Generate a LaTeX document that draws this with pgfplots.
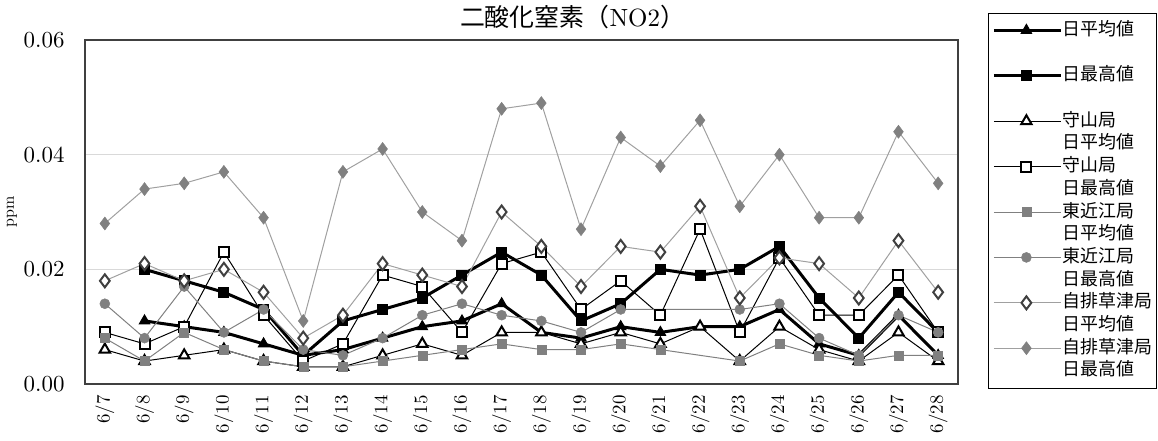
\documentclass[border=0pt]{standalone}
\usepackage{fontspec}
\setmainfont{lmroman10-regular.otf}
\usepackage{pgfplots}
\pgfplotsset{compat=1.18}
\newfontfamily\cjk{Noto Sans CJK JP}

\definecolor{markgray}{HTML}{808080}
\definecolor{linegray}{HTML}{A0A0A0}
\definecolor{gridgray}{HTML}{D9D9D9}
\definecolor{framegray}{HTML}{404040}

\begin{document}
\begin{tikzpicture}
\useasboundingbox (-85bp,-57bp) rectangle (1073bp,384bp);
\begin{axis}[
  scale only axis,
  width=873bp, height=344bp,
  xmin=-0.5, xmax=21.5,
  ymin=0, ymax=0.06,
  xtick={0,...,21},
  xticklabels={6/7,6/8,6/9,6/10,6/11,6/12,6/13,6/14,6/15,6/16,6/17,6/18,6/19,6/20,6/21,6/22,6/23,6/24,6/25,6/26,6/27,6/28},
  x tick label style={rotate=90, anchor=east, font=\fontsize{19}{19}\selectfont},
  xticklabel shift=8bp,
  ytick={0,0.02,0.04,0.06},
  yticklabel={\fontsize{23}{23}\selectfont\pgfmathprintnumber[assume math mode=true, fixed, fixed zerofill, precision=2]{\tick}},
  yticklabel shift=17bp,
  scaled y ticks=false,
  major tick length=0pt,
  ymajorgrids=true,
  grid style={gridgray, line width=1.2bp},
  axis line style={framegray, line width=1.3bp},
  ylabel={\fontsize{16}{16}\selectfont ppm},
  ylabel style={at={(axis description cs:-0.0836,0.5)}, anchor=center},
  title={{\cjk 二酸化窒素（}NO2{\cjk ）}},
  title style={font=\fontsize{25}{25}\selectfont, at={(0.5,1)}, anchor=south, xshift=51bp, yshift=2bp},
  legend style={
    at={(1,1)}, anchor=north west, xshift=30bp, yshift=27bp,
    draw=black, line width=0.8bp, inner xsep=4bp, inner ysep=8bp,
    font=\fontsize{18}{18}\selectfont\cjk,
    nodes={inner sep=0pt, text height=14bp, text depth=4bp},
    row sep=4.7bp,
  },
  legend cell align=left,
  legend image code/.code={
    \path (0bp,0bp) -- (67bp,0bp);
    \draw[mark repeat=2, mark phase=2] plot coordinates {(6bp,0bp) (32.5bp,0bp) (59bp,0bp)};
  },
]

% 日平均値
\addplot[black, line width=3bp, mark=triangle*, mark size=6bp, mark options={line width=1bp}]
coordinates {
(1,0.011) (2,0.010) (3,0.009) (4,0.007) (5,0.005) (6,0.006) (7,0.008)
(8,0.010) (9,0.011) (10,0.014) (11,0.009) (12,0.008) (13,0.010) (14,0.009)
(15,0.010) (16,0.010) (17,0.013) (18,0.007) (19,0.005) (20,0.012) (21,0.005)
};
\addlegendentry{日平均値}
\addlegendimage{empty legend}
\addlegendentry{}

% 日最高値
\addplot[black, line width=3bp, mark=square*, mark size=5bp, mark options={line width=1bp}]
coordinates {
(1,0.020) (2,0.018) (3,0.016) (4,0.013) (5,0.005) (6,0.011) (7,0.013)
(8,0.015) (9,0.019) (10,0.023) (11,0.019) (12,0.011) (13,0.014) (14,0.020)
(15,0.019) (16,0.020) (17,0.024) (18,0.015) (19,0.008) (20,0.016) (21,0.009)
};
\addlegendentry{日最高値}
\addlegendimage{empty legend}
\addlegendentry{}

% 守山局 日平均値
\addplot[black, line width=1bp, mark=triangle*, mark size=6bp, mark options={fill=white, line width=2bp}]
coordinates {
(0,0.006) (1,0.004) (2,0.005) (3,0.006) (4,0.004) (5,0.003) (6,0.003)
(7,0.005) (8,0.007) (9,0.005) (10,0.009) (11,0.009) (12,0.007) (13,0.009)
(14,0.007) (15,0.010) (16,0.004) (17,0.010) (18,0.006) (19,0.004) (20,0.009) (21,0.004)
};
\addlegendentry{守山局}
\addlegendimage{empty legend}
\addlegendentry{日平均値}

% 守山局 日最高値
\addplot[black, line width=1bp, mark=square*, mark size=5bp, mark options={fill=white, line width=2bp}]
coordinates {
(0,0.009) (1,0.007) (2,0.010) (3,0.023) (4,0.012) (5,0.004) (6,0.007)
(7,0.019) (8,0.017) (9,0.009) (10,0.021) (11,0.023) (12,0.013) (13,0.018)
(14,0.012) (15,0.027) (16,0.009) (17,0.022) (18,0.012) (19,0.012) (20,0.019) (21,0.009)
};
\addlegendentry{守山局}
\addlegendimage{empty legend}
\addlegendentry{日最高値}

% 東近江局 日平均値
\addplot[markgray, line width=1bp, mark=square*, mark size=4.5bp, mark options={markgray, line width=0.5bp}]
coordinates {
(0,0.008) (1,0.004) (2,0.009) (3,0.006) (4,0.004) (5,0.003) (6,0.003)
(7,0.004) (8,0.005) (9,0.006) (10,0.007) (11,0.006) (12,0.006) (13,0.007)
(14,0.006) (16,0.004) (17,0.007) (18,0.005) (19,0.004) (20,0.005) (21,0.005)
};
\addlegendentry{東近江局}
\addlegendimage{empty legend}
\addlegendentry{日平均値}

% 東近江局 日最高値
\addplot[markgray, line width=1bp, mark=*, mark size=5bp, mark options={markgray, line width=0.5bp}]
coordinates {
(0,0.014) (1,0.008) (2,0.017) (3,0.009) (4,0.013) (5,0.006) (6,0.005)
(7,0.008) (8,0.012) (9,0.014) (10,0.012) (11,0.011) (12,0.009) (13,0.013)
(16,0.013) (17,0.014) (18,0.008) (19,0.005) (20,0.012) (21,0.009)
};
\addlegendentry{東近江局}
\addlegendimage{empty legend}
\addlegendentry{日最高値}

% 自排草津局 日平均値
\addplot[linegray, line width=1bp, mark=diamond*, mark size=6.5bp, mark options={fill=white, draw=framegray, line width=2bp}]
coordinates {
(0,0.018) (1,0.021) (2,0.018) (3,0.020) (4,0.016) (5,0.008) (6,0.012)
(7,0.021) (8,0.019) (9,0.017) (10,0.030) (11,0.024) (12,0.017) (13,0.024)
(14,0.023) (15,0.031) (16,0.015) (17,0.022) (18,0.021) (19,0.015) (20,0.025) (21,0.016)
};
\addlegendentry{自排草津局}
\addlegendimage{empty legend}
\addlegendentry{日平均値}

% 自排草津局 日最高値
\addplot[linegray, line width=1bp, mark=diamond*, mark size=6.5bp, mark options={markgray, line width=0.5bp}]
coordinates {
(0,0.028) (1,0.034) (2,0.035) (3,0.037) (4,0.029) (5,0.011) (6,0.037)
(7,0.041) (8,0.030) (9,0.025) (10,0.048) (11,0.049) (12,0.027) (13,0.043)
(14,0.038) (15,0.046) (16,0.031) (17,0.040) (18,0.029) (19,0.029) (20,0.044) (21,0.035)
};
\addlegendentry{自排草津局}
\addlegendimage{empty legend}
\addlegendentry{日最高値}

\end{axis}
\end{tikzpicture}
\end{document}
